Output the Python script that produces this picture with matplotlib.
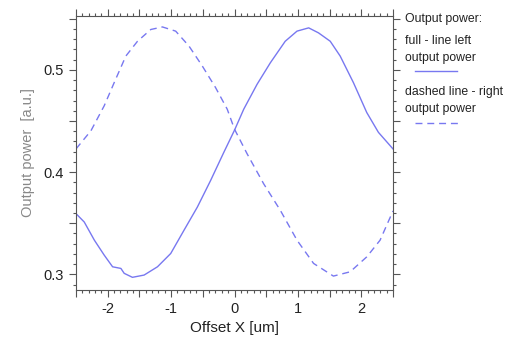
import matplotlib
matplotlib.use("Agg")
import matplotlib.pyplot as plt
from matplotlib.ticker import MultipleLocator, FuncFormatter
from matplotlib.lines import Line2D

plt.rcParams['font.family'] = ['Liberation Sans', 'DejaVu Sans']
plt.rcParams['axes.unicode_minus'] = False

# Left output power (full line)
x_left = [-2.50, -2.37, -2.21, -2.055, -1.923, -1.792, -1.74, -1.61, -1.426, -1.215, -1.006,
          -0.797, -0.586, -0.377, -0.168, 0.0, 0.146, 0.357, 0.566, 0.80, 0.986, 1.17,
          1.325, 1.51, 1.667, 1.876, 2.086, 2.27, 2.50]
y_left = [0.3594, 0.3512, 0.3334, 0.3188, 0.3074, 0.3058, 0.3010, 0.2971, 0.2993, 0.3074, 0.3204,
          0.3431, 0.3658, 0.3918, 0.4194, 0.4410, 0.4616, 0.4860, 0.5070, 0.5280, 0.5379, 0.5411,
          0.5362, 0.5280, 0.5135, 0.4875, 0.4583, 0.4389, 0.4227]

# Right output power (dashed line)
x_right = [-2.50, -2.264, -2.055, -1.898, -1.714, -1.53, -1.32, -1.137, -0.928, -0.718, -0.508,
           -0.299, -0.115, 0.0, 0.20, 0.46, 0.723, 0.986, 1.247, 1.56, 1.824, 2.086, 2.296, 2.50]
y_right = [0.4227, 0.4405, 0.4649, 0.4875, 0.5135, 0.5280, 0.5395, 0.5420, 0.5379, 0.5233, 0.5038,
           0.4827, 0.4616, 0.4420, 0.4178, 0.3886, 0.3626, 0.3334, 0.3107, 0.2983, 0.3025, 0.3171,
           0.3334, 0.3620]

line_color = '#7878f0'
dash = (0, (5, 3.5))

fig = plt.figure(figsize=(5.09, 3.44), dpi=100)
ax = fig.add_axes([76/509, 1 - 290/344, (393-76)/509, (290-16)/344])

ax.plot(x_left, y_left, color=line_color, lw=1.0)
ax.plot(x_right, y_right, color=line_color, lw=1.0, ls=dash)

ax.set_xlim(-2.5, 2.5)
ax.set_ylim(0.2847, 0.5527)

ax.xaxis.set_major_locator(MultipleLocator(0.5))
ax.xaxis.set_minor_locator(MultipleLocator(0.1))
ax.yaxis.set_major_locator(MultipleLocator(0.05))
ax.yaxis.set_minor_locator(MultipleLocator(0.01))
ax.xaxis.set_major_formatter(FuncFormatter(
    lambda v, p: ('%d' % round(v)) if abs(v - round(v)) < 1e-6 else ''))
ax.yaxis.set_major_formatter(FuncFormatter(
    lambda v, p: ('%.1f' % v) if abs(v * 10 - round(v * 10)) < 1e-6 else ''))

ax.tick_params(which='both', direction='out', top=True, right=True, color='#555555', width=0.8)
ax.tick_params(which='major', length=5, labelsize=10.5, labelcolor='#222222')
ax.tick_params(which='minor', length=2.5)
for s in ax.spines.values():
    s.set_color('#555555')
    s.set_linewidth(0.8)

ax.set_xlabel('Offset X [um]', fontsize=11, color='#222222', labelpad=4)
ax.set_ylabel('Output power  [a.u.]', fontsize=10.5, color='#888888', labelpad=6)

# Legend-like annotation text on the right
fs = 8.8
fig.text(405/509, 1 - 19/344, 'Output power:', fontsize=fs, va='center', color='#222222')
fig.text(405/509, 1 - 41/344, 'full - line left', fontsize=fs, va='center', color='#222222')
fig.text(405/509, 1 - 58/344, 'output power', fontsize=fs, va='center', color='#222222')
fig.add_artist(Line2D([415/509, 457/509], [1 - 71/344, 1 - 71/344], color=line_color, lw=1.0))
fig.text(405/509, 1 - 92/344, 'dashed line - right', fontsize=fs, va='center', color='#222222')
fig.text(405/509, 1 - 109/344, 'output power', fontsize=fs, va='center', color='#222222')
fig.add_artist(Line2D([415/509, 458/509], [1 - 123/344, 1 - 123/344], color=line_color, lw=1.0,
                      ls=dash))

fig.savefig('out.png', dpi=100)
